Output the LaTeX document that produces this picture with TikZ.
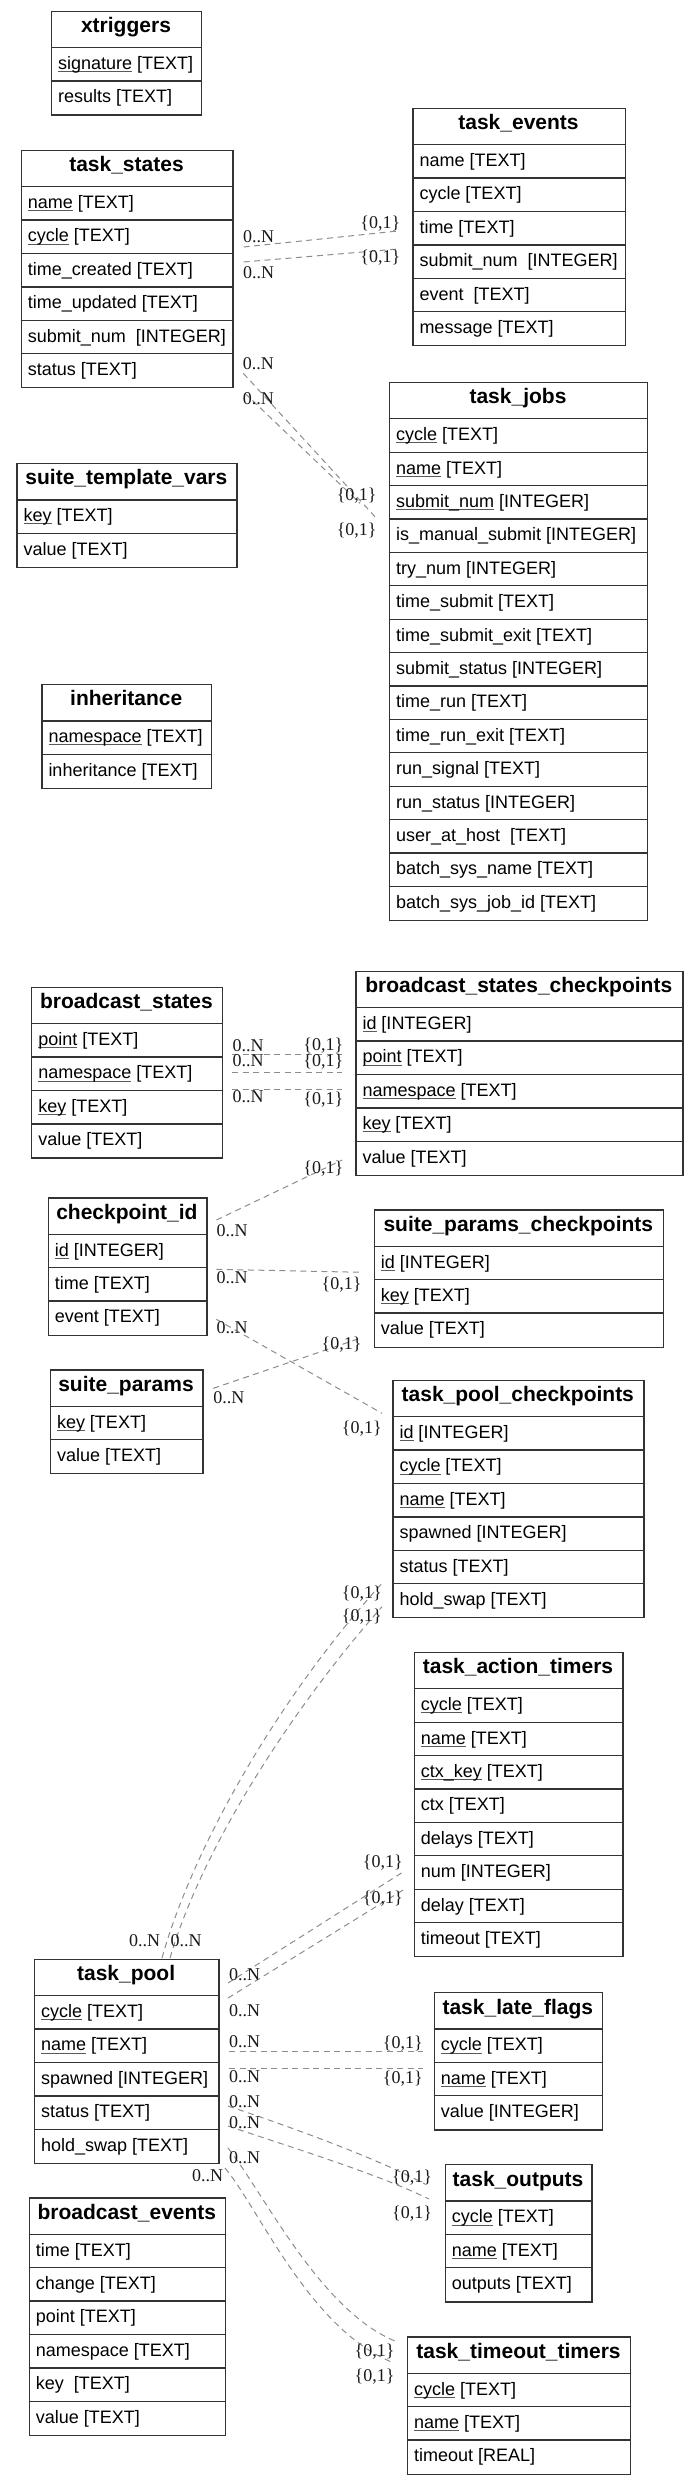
\documentclass[tikz,border=0pt]{standalone}
\usepackage{fontspec}
\setmainfont{Liberation Sans}
\newfontfamily\labelfont{Liberation Serif}
\usetikzlibrary{calc}

\newcommand{\pk}[1]{\setbox0\hbox{#1}\rlap{\color{black!65}\rule[-2.6pt]{\wd0}{0.9pt}}\box0}
\newcommand{\cardfont}{\labelfont\fontsize{18}{20}\selectfont}

\tikzset{
  tblbox/.style={draw=black!80, line width=1.3pt, anchor=north west, inner sep=0pt, fill=white},
  tblsep/.style={draw=black!80, line width=1.3pt},
  tbltitle/.style={font=\fontsize{21}{24}\selectfont\bfseries, anchor=base, inner sep=0pt},
  tblfield/.style={font=\fontsize{18}{20}\selectfont, anchor=base west, inner sep=0pt},
  card/.style={font=\cardfont, anchor=base, inner sep=0pt, text=black!90},
  rel/.style={draw=black!45, line width=1pt, dash pattern=on 6pt off 4.5pt},
}

% #1 name, #2 x1, #3 x2, #4 top, #5 rows, #6 title, #7 row list
\newcommand{\ertable}[7]{%
  \pgfmathsetmacro{\erW}{#3-#2}%
  \pgfmathsetmacro{\erH}{37+33.4*#5}%
  \node[tblbox, minimum width=\erW pt, minimum height=\erH pt] (#1) at (#2,#4) {};%
  \node[tbltitle] (#1-title) at ({(#2+#3)/2},{#4+22}) {#6};%
  \draw[tblsep] (#2,{#4+37}) -- (#3,{#4+37});%
  \foreach \kk/\fn/\ty [count=\ri] in {#7} {%
    \pgfmathsetmacro{\rt}{#4+37+33.4*(\ri-1)}%
    \ifnum\ri>1 \draw[tblsep] (#2,\rt) -- (#3,\rt);\fi
    \node[tblfield] (#1-\ri) at ({#2+7},{\rt+21.8}) {\if\kk u\pk{\fn}\else\fn\fi\ [\ty]};%
  }%
}

\begin{document}
\begin{tikzpicture}[x=1pt,y=-1pt]
\useasboundingbox (0,0) rectangle (697,2483);

% ---------- connectors (drawn first, under tables) ----------
\coordinate (r1a) at (243.6,247);   \coordinate (r1b) at (398,231);
\coordinate (r2a) at (243.6,262);   \coordinate (r2b) at (398,249);
\coordinate (r3a) at (243.3,373.3); \coordinate (r3b) at (375,516.7);
\coordinate (r4a) at (245,393.3);   \coordinate (r4b) at (360,503.3);
\coordinate (r5a) at (232,1054);    \coordinate (r5b) at (342.2,1054);
\coordinate (r6a) at (232,1072);    \coordinate (r6b) at (342.2,1072);
\coordinate (r7a) at (232,1089);    \coordinate (r7b) at (342.2,1089);
\coordinate (r8a) at (216.4,1220);  \coordinate (r8b) at (342.2,1160);
\coordinate (r9a) at (216.4,1269.3);\coordinate (r9b) at (362.2,1272.3);
\coordinate (r10a) at (216.4,1319.3);\coordinate (r10b) at (382,1413.3);
\coordinate (r11a) at (213.3,1388.3);\coordinate (r11b) at (360,1338.3);
\coordinate (r12a) at (162,1958);   \coordinate (r12b) at (382,1583.3);
\coordinate (r13a) at (170,1958);   \coordinate (r13b) at (382,1606.7);
\coordinate (r14a) at (228,1983);   \coordinate (r14b) at (403,1872);
\coordinate (r15a) at (228,1998);   \coordinate (r15b) at (403,1890);
\coordinate (r16a) at (229,2051.3); \coordinate (r16b) at (422.5,2051.3);
\coordinate (r17a) at (229,2068.3); \coordinate (r17b) at (423,2068.3);
\coordinate (r18a) at (228,2106);   \coordinate (r18b) at (425,2184);
\coordinate (r19a) at (228,2126);   \coordinate (r19b) at (429,2199);
\coordinate (r20a) at (228,2148);   \coordinate (r20b) at (395,2341);
\coordinate (r21a) at (225,2168);   \coordinate (r21b) at (394,2363);

\draw[rel] (r1a) -- (r1b);
\draw[rel] (r2a) -- (r2b);
\draw[rel] (r3a) -- (r3b);
\draw[rel] (r4a) -- (r4b);
\draw[rel] (r5a) -- (r5b);
\draw[rel] (r6a) -- (r6b);
\draw[rel] (r7a) -- (r7b);
\draw[rel] (r8a) -- (r8b);
\draw[rel] (r9a) -- (r9b);
\draw[rel] (r10a) -- (r10b);
\draw[rel] (r11a) -- (r11b);
\draw[rel] (r12a) .. controls (195,1840) and (285,1690) .. (r12b);
\draw[rel] (r13a) .. controls (203,1845) and (295,1705) .. (r13b);
\draw[rel] (r14a) -- (r14b);
\draw[rel] (r15a) -- (r15b);
\draw[rel] (r16a) -- (r16b);
\draw[rel] (r17a) -- (r17b);
\draw[rel] (r18a) .. controls (300,2130) and (380,2160) .. (r18b);
\draw[rel] (r19a) .. controls (300,2150) and (380,2175) .. (r19b);
\draw[rel] (r20a) .. controls (265,2195) and (320,2310) .. (r20b);
\draw[rel] (r21a) .. controls (260,2210) and (310,2330) .. (r21b);

% ---------- cardinality labels ----------
\node[card] (l1a) at (258.5,242.7) {0..N};  \node[card] (l1b) at (380.3,229) {\{0,1\}};
\node[card] (l2a) at (258.5,278.3) {0..N};  \node[card] (l2b) at (380.3,262.7) {\{0,1\}};
\node[card] (l3a) at (258.4,369.3) {0..N};  \node[card] (l3b) at (356.7,500) {\{0,1\}};
\node[card] (l4a) at (258.4,404.3) {0..N};  \node[card] (l4b) at (356.7,535) {\{0,1\}};
\node[card] (l5a) at (248.2,1051.7) {0..N}; \node[card] (l5b) at (323.3,1050.5) {\{0,1\}};
\node[card] (l6a) at (248.2,1066.7) {0..N}; \node[card] (l6b) at (323.3,1066) {\{0,1\}};
\node[card] (l7a) at (248.2,1102.7) {0..N}; \node[card] (l7b) at (323.3,1104) {\{0,1\}};
\node[card] (l8a) at (232,1236.7) {0..N};   \node[card] (l8b) at (323.3,1173.3) {\{0,1\}};
\node[card] (l9a) at (232,1283.3) {0..N};   \node[card] (l9b) at (341.6,1289.3) {\{0,1\}};
\node[card] (l10a) at (232,1333.3) {0..N};  \node[card] (l10b) at (361.8,1433.3) {\{0,1\}};
\node[card] (l11a) at (228.9,1403.3) {0..N};\node[card] (l11b) at (341.6,1349.3) {\{0,1\}};
\node[card] (l12a) at (144.7,1946.7) {0..N};\node[card] (l12b) at (361.8,1598.3) {\{0,1\}};
\node[card] (l13a) at (186,1946.7) {0..N};  \node[card] (l13b) at (361.8,1621.7) {\{0,1\}};
\node[card] (l14a) at (244.5,1980.3) {0..N};\node[card] (l14b) at (382.8,1867.3) {\{0,1\}};
\node[card] (l15a) at (244.5,2016.3) {0..N};\node[card] (l15b) at (382.8,1903.2) {\{0,1\}};
\node[card] (l16a) at (244.5,2047) {0..N};  \node[card] (l16b) at (402.8,2048) {\{0,1\}};
\node[card] (l17a) at (244.5,2082.3) {0..N};\node[card] (l17b) at (402.8,2083) {\{0,1\}};
\node[card] (l18a) at (244.5,2107) {0..N};  \node[card] (l18b) at (412,2182) {\{0,1\}};
\node[card] (l19a) at (244.5,2128) {0..N};  \node[card] (l19b) at (412,2218) {\{0,1\}};
\node[card] (l20a) at (244.5,2163) {0..N};  \node[card] (l20b) at (374.5,2356.3) {\{0,1\}};
\node[card] (l21a) at (207.5,2181.3) {0..N};\node[card] (l21b) at (374.5,2381.3) {\{0,1\}};

% ---------- tables ----------
\ertable{xtriggers}{51}{201}{10.7}{2}{xtriggers}{u/signature/TEXT, n/results/TEXT}
\ertable{taskstates}{20.7}{232.3}{149.7}{6}{task\_states}{u/name/TEXT, u/cycle/TEXT, n/time\_created/TEXT, n/time\_updated/TEXT, n/submit\_num\ /INTEGER, n/status/TEXT}
\ertable{taskevents}{412.3}{624.7}{107.7}{6}{task\_events}{n/name/TEXT, n/cycle/TEXT, n/time/TEXT, n/submit\_num\ /INTEGER, n/event\ /TEXT, n/message/TEXT}
\ertable{taskjobs}{388.9}{647.1}{381.8}{15}{task\_jobs}{u/cycle/TEXT, u/name/TEXT, u/submit\_num/INTEGER, n/is\_manual\_submit/INTEGER, n/try\_num/INTEGER, n/time\_submit/TEXT, n/time\_submit\_exit/TEXT, n/submit\_status/INTEGER, n/time\_run/TEXT, n/time\_run\_exit/TEXT, n/run\_signal/TEXT, n/run\_status/INTEGER, n/user\_at\_host\ /TEXT, n/batch\_sys\_name/TEXT, n/batch\_sys\_job\_id/TEXT}
\ertable{stvars}{16.4}{236.4}{462.9}{2}{suite\_template\_vars}{u/key/TEXT, n/value/TEXT}
\ertable{inheritance}{41.3}{211.1}{683.9}{2}{inheritance}{u/namespace/TEXT, n/inheritance/TEXT}
\ertable{bstates}{31.1}{221.8}{986.7}{4}{broadcast\_states}{u/point/TEXT, u/namespace/TEXT, u/key/TEXT, n/value/TEXT}
\ertable{bsc}{355.3}{682.2}{970.7}{5}{broadcast\_states\_checkpoints}{u/id/INTEGER, u/point/TEXT, u/namespace/TEXT, u/key/TEXT, n/value/TEXT}
\ertable{cpid}{47.6}{206.2}{1197.3}{3}{checkpoint\_id}{u/id/INTEGER, n/time/TEXT, n/event/TEXT}
\ertable{spc}{373.7}{663}{1209.3}{3}{suite\_params\_checkpoints}{u/id/INTEGER, u/key/TEXT, n/value/TEXT}
\ertable{sparams}{49.8}{202.2}{1369.3}{2}{suite\_params}{u/key/TEXT, n/value/TEXT}
\ertable{tpc}{392.3}{643.3}{1379.7}{6}{task\_pool\_checkpoints}{u/id/INTEGER, u/cycle/TEXT, u/name/TEXT, n/spawned/INTEGER, n/status/TEXT, n/hold\_swap/TEXT}
\ertable{tat}{413.7}{622.3}{1651.8}{8}{task\_action\_timers}{u/cycle/TEXT, u/name/TEXT, u/ctx\_key/TEXT, n/ctx/TEXT, n/delays/TEXT, n/num/INTEGER, n/delay/TEXT, n/timeout/TEXT}
\ertable{taskpool}{34}{218.3}{1958.7}{5}{task\_pool}{u/cycle/TEXT, u/name/TEXT, n/spawned/INTEGER, n/status/TEXT, n/hold\_swap/TEXT}
\ertable{tlf}{433.7}{602}{1992}{3}{task\_late\_flags}{u/cycle/TEXT, u/name/TEXT, n/value/INTEGER}
\ertable{toutputs}{444.7}{591.3}{2164}{3}{task\_outputs}{u/cycle/TEXT, u/name/TEXT, n/outputs/TEXT}
\ertable{bevents}{28.7}{225}{2197.3}{6}{broadcast\_events}{n/time/TEXT, n/change/TEXT, n/point/TEXT, n/namespace/TEXT, n/key\ /TEXT, n/value/TEXT}
\ertable{ttt}{407}{630}{2336.3}{3}{task\_timeout\_timers}{u/cycle/TEXT, u/name/TEXT, n/timeout/REAL}
\end{tikzpicture}
\end{document}
